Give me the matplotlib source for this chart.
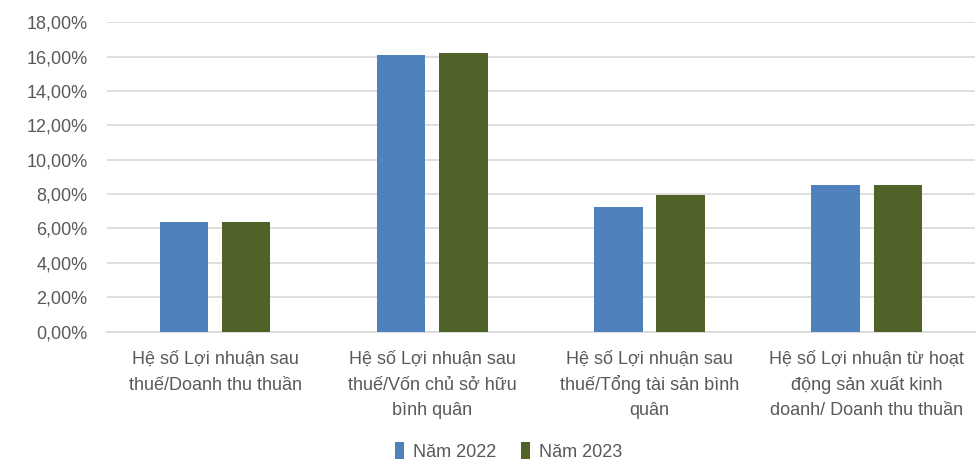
import numpy as np
import matplotlib.pyplot as plt
from matplotlib.ticker import FuncFormatter

categories = [
    "Hệ số Lợi nhuận sau\nthuế/Doanh thu thuần",
    "Hệ số Lợi nhuận sau\nthuế/Vốn chủ sở hữu\nbình quân",
    "Hệ số Lợi nhuận sau\nthuế/Tổng tài sản bình\nquân",
    "Hệ số Lợi nhuận từ hoạt\nđộng sản xuất kinh\ndoanh/ Doanh thu thuần",
]
series_names = ["Năm 2022", "Năm 2023"]
values_2022 = [6.35, 16.12, 7.25, 8.54]
values_2023 = [6.35, 16.23, 7.96, 8.54]

plt.rcParams["font.family"] = ["Liberation Sans", "DejaVu Sans"]
text_color = "#595959"

fig = plt.figure(figsize=(9.8, 4.63), dpi=100)
ax = fig.add_axes([0.109, 0.284, 0.886, 0.668])

x = np.arange(len(categories))
w = 0.222
off = 0.143
ax.bar(x - off, values_2022, w, color="#4F81BD", label=series_names[0], zorder=3)
ax.bar(x + off, values_2023, w, color="#4F6228", label=series_names[1], zorder=3)

ax.set_ylim(0, 18)
ax.set_xlim(-0.5, len(categories) - 0.5)
ax.set_yticks(np.arange(0, 19, 2))
ax.yaxis.set_major_formatter(FuncFormatter(lambda v, p: f"{v:.2f}%".replace(".", ",")))
ax.grid(axis="y", color="#d9d9d9", linewidth=1.2, zorder=0)
for s in ["top", "right", "left"]:
    ax.spines[s].set_visible(False)
ax.spines["bottom"].set_color("#d9d9d9")
ax.spines["bottom"].set_linewidth(1.2)
ax.tick_params(axis="both", length=0, labelsize=13, colors=text_color)
ax.tick_params(axis="y", pad=14)
ax.set_xticks(x)
ax.set_xticklabels([])

# category labels drawn line by line so every line keeps the same spacing
for xi, lab in zip(x, categories):
    for i, line in enumerate(lab.split("\n")):
        ax.annotate(line, xy=(xi, 0), xycoords=ax.get_xaxis_transform(),
                    xytext=(0, -(32.5 + 25.5 * i)), textcoords="offset pixels",
                    ha="center", va="baseline", fontsize=13, color=text_color)

fig.legend(loc="lower center", bbox_to_anchor=(0.519, -0.03), ncol=2, frameon=False,
           fontsize=13, handlelength=0.5, handleheight=1.0, handletextpad=0.5,
           columnspacing=1.4, labelcolor=text_color)

fig.savefig("out.png", dpi=100)
